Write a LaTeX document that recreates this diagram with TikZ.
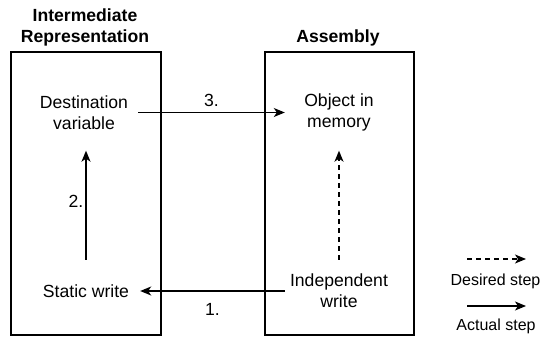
\documentclass[tikz,border=0pt]{standalone}
\usepackage{fontspec}
\setmainfont{Liberation Sans}
\usetikzlibrary{arrows.meta}
\begin{document}
\begin{tikzpicture}[x=1pt,y=-1pt,
  every node/.style={inner sep=0pt, font=\fontsize{17.6}{21}\selectfont, align=center},
  panel/.style={draw, line width=1.3pt},
  title/.style={font=\fontsize{17.6}{21}\selectfont\bfseries},
  item/.style={minimum width=108pt},
  topitem/.style={item, minimum height=76pt},
  botitem/.style={item, minimum height=62pt},
  steplbl/.style={font=\fontsize{16}{19}\selectfont},
  conn/.style={line width=1.3pt, -{Stealth[length=11pt,width=9pt,inset=3pt]}},
  desired/.style={conn, dash pattern=on 5pt off 4pt}
]
\useasboundingbox (0,0) rectangle (542,338);
\node[panel, minimum width=150pt, minimum height=283pt] (irbox) at (86,193.5) {};
\node[panel, minimum width=149pt, minimum height=283pt] (asmbox) at (339.5,193.5) {};
\node[title] (irtitle) at (85,27.5) {Intermediate\\Representation};
\node[title] (asmtitle) at (338,38) {Assembly};

\node[topitem] (dest) at (84,112.5) {Destination\\variable};
\node[topitem] (obj) at (339,112.5) {Object in\\memory};
\node[botitem] (stat) at (86,291) {Static write};
\node[botitem] (indep) at (339,291) {Independent\\write};

\draw[conn] (dest.east) -- (obj.west) node[midway, above=5pt] (l3) {3.};
\draw[conn] (indep.west) -- (stat.east) node[midway, below=12pt] (l1) {1.};
\draw[conn] (stat.north -| 86,0) -- (dest.south -| 86,0);
\node (l2) at (76,201) {2.};
\draw[desired] (indep.north) -- (obj.south);

\coordinate (dsA) at (467,259);
\coordinate (dsB) at (526,259);
\coordinate (asA) at (467,306);
\coordinate (asB) at (526,306);
\draw[desired] (dsA) -- (dsB);
\node[steplbl] (dslbl) at (495.5,281) {Desired step};
\draw[conn] (asA) -- (asB);
\node[steplbl] (aslbl) at (496,326) {Actual step};
\end{tikzpicture}
\end{document}
